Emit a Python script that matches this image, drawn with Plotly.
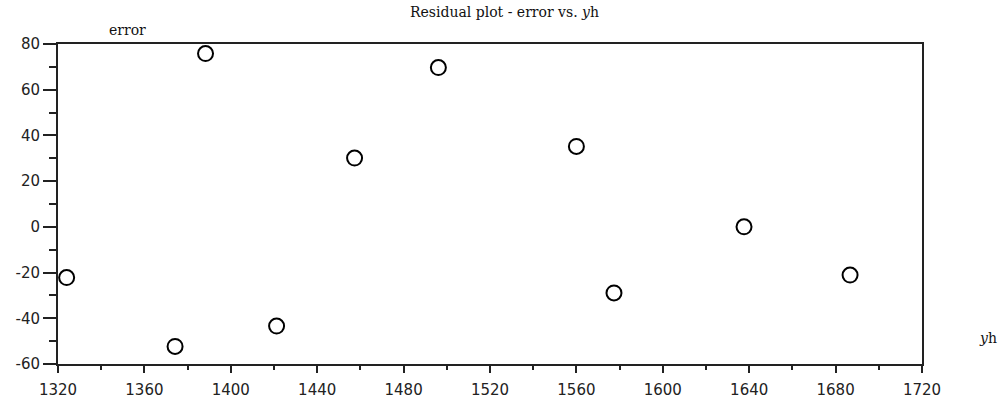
import plotly.graph_objects as go

# Fitted values (yh) and residuals (error)
yh = [1324.0, 1374.2, 1388.3, 1421.2, 1457.3, 1496.1, 1560.0, 1577.4, 1637.6, 1686.7]
error = [-22.2, -52.3, 75.8, -43.4, 30.1, 69.7, 35.2, -28.9, 0.0, -21.1]

x_ticks = [1320, 1360, 1400, 1440, 1480, 1520, 1560, 1600, 1640, 1680, 1720]
y_ticks = [-60, -40, -20, 0, 20, 40, 60, 80]

tick_font = dict(family="DejaVu Sans, Arial, sans-serif", size=15, color="#222")
label_font = dict(family="DejaVu Serif, Times New Roman, serif", size=14, color="#111")

fig = go.Figure()
fig.add_trace(go.Scatter(
    x=yh, y=error, mode="markers", cliponaxis=False,
    marker=dict(symbol="circle", size=15, color="white",
                line=dict(color="black", width=2)),
    showlegend=False,
))

fig.update_layout(
    width=1006, height=398,
    margin=dict(l=58, r=84, t=44, b=34, autoexpand=False),
    paper_bgcolor="white", plot_bgcolor="white",
    xaxis=dict(
        range=[1320, 1720], tickvals=x_ticks, ticktext=[str(v) for v in x_ticks],
        showgrid=False, zeroline=False, automargin=False,
        showline=True, linecolor="#222", linewidth=2, mirror=True,
        ticks="outside", ticklen=7, tickwidth=1.5, tickcolor="#222",
        ticklabelstandoff=4,
        minor=dict(dtick=20, ticks="outside", ticklen=4, tickwidth=1.5, tickcolor="#222"),
        tickfont=tick_font,
    ),
    yaxis=dict(
        range=[-60, 80], tickvals=y_ticks, ticktext=[str(v) for v in y_ticks],
        showgrid=False, zeroline=False, automargin=False,
        showline=True, linecolor="#222", linewidth=2, mirror=True,
        ticks="outside", ticklen=13, tickwidth=1.5, tickcolor="#222",
        minor=dict(dtick=10, ticks="outside", ticklen=7, tickwidth=1.5, tickcolor="#222"),
        tickfont=tick_font,
    ),
    annotations=[
        dict(text="Residual plot - error vs. <i>y</i>h", xref="paper", yref="paper",
             x=0.517, y=1.1, showarrow=False, font=label_font,
             xanchor="center", yanchor="middle"),
        dict(text="error", xref="paper", yref="paper", x=0.08, y=1.044,
             showarrow=False, font=label_font, xanchor="center", yanchor="middle"),
        dict(text="<i>y</i>h", xref="paper", yref="paper", x=1.076, y=0.081,
             showarrow=False, font=label_font, xanchor="center", yanchor="middle"),
    ],
)

fig.write_html("out.html")
